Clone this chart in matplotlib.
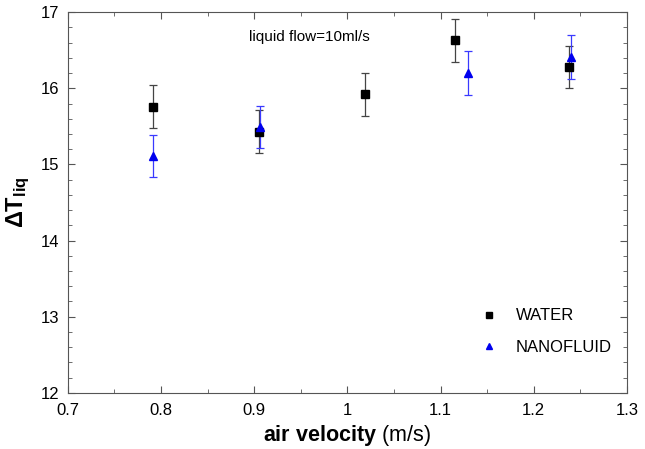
import numpy as np
import matplotlib.pyplot as plt
from matplotlib.ticker import MultipleLocator
from matplotlib.lines import Line2D

plt.rcParams['font.family'] = ['Liberation Sans', 'DejaVu Sans']
plt.rcParams['mathtext.fontset'] = 'custom'
plt.rcParams['mathtext.rm'] = 'Liberation Sans'
plt.rcParams['mathtext.bf'] = 'Liberation Sans:bold'
plt.rcParams['mathtext.it'] = 'Liberation Sans:italic'

# WATER
water_x = [0.791, 0.905, 1.019, 1.115, 1.238]
water_y = [15.76, 15.43, 15.92, 16.63, 16.28]
water_err = [0.28, 0.28, 0.28, 0.28, 0.28]

# NANOFLUID
nano_x = [0.791, 0.906, 1.129, 1.240]
nano_y = [15.11, 15.49, 16.20, 16.41]
nano_err = [0.28, 0.28, 0.29, 0.29]

fig = plt.figure(figsize=(6.45, 4.49), dpi=100)
ax = fig.add_axes([0.105, 0.125, 0.867, 0.848])

ax.errorbar(water_x, water_y, yerr=water_err, fmt='s', color='black',
            ecolor='#444444', elinewidth=0.9, capsize=3, capthick=0.9,
            markersize=6)
ax.errorbar(nano_x, nano_y, yerr=nano_err, fmt='^', color='#0000ee',
            ecolor='#3a3aff', elinewidth=0.9, capsize=3, capthick=0.9,
            markersize=6)

ax.set_xlim(0.7, 1.3)
ax.set_ylim(12, 17)
ax.set_xticks([0.7, 0.8, 0.9, 1.0, 1.1, 1.2, 1.3])
ax.set_xticklabels(['0.7', '0.8', '0.9', '1', '1.1', '1.2', '1.3'])
ax.xaxis.set_minor_locator(MultipleLocator(0.05))
ax.yaxis.set_major_locator(MultipleLocator(1))
ax.yaxis.set_minor_locator(MultipleLocator(0.2))
ax.tick_params(which='both', direction='in', top=True, right=True,
               labelsize=12, color='#555555')
ax.tick_params(which='major', length=5)
ax.tick_params(which='minor', length=3)
ax.tick_params(axis='x', pad=7)
ax.tick_params(axis='y', pad=6)
for s in ax.spines.values():
    s.set_color('#555555')

ax.set_xlabel(r'$\mathbf{air\ velocity}$ (m/s)', fontsize=15.5, labelpad=4)
ax.set_ylabel(r'$\mathbf{\Delta T_{liq}}$', fontsize=17, labelpad=6)

ax.text(0.325, 0.935, 'liquid flow=10ml/s', transform=ax.transAxes,
        fontsize=11, va='center')

handles = [Line2D([], [], marker='s', color='black', linestyle='none', markersize=5),
           Line2D([], [], marker='^', color='#0000ee', linestyle='none', markersize=5)]
ax.legend(handles, ['WATER', 'NANOFLUID'], loc='lower right', frameon=False,
          fontsize=12, handletextpad=0.6, labelspacing=1.0,
          bbox_to_anchor=(1.0, 0.06))

fig.savefig('out.png', dpi=100)
